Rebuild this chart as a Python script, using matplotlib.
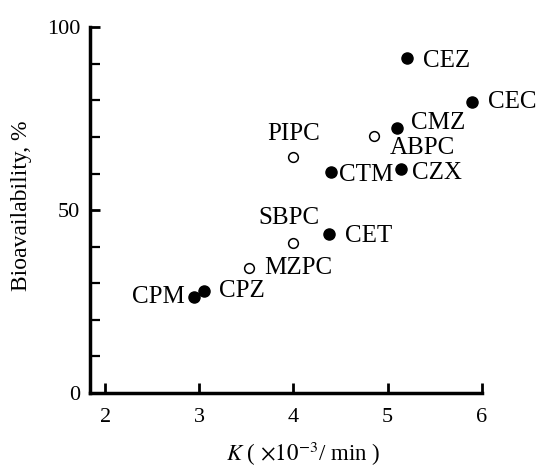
import numpy as np
import matplotlib.pyplot as plt

plt.rcParams['font.family'] = ['Liberation Serif', 'DejaVu Serif']
plt.rcParams['mathtext.fontset'] = 'stix'

# Datos
nombres = ['CEZ', 'CEC', 'CMZ', 'ABPC', 'PIPC', 'CTM', 'CZX', 'SBPC', 'CET', 'MZPC', 'CPM', 'CPZ']
k = [5.21, 5.90, 5.10, 4.86, 4.00, 4.40, 5.14, 3.99, 4.38, 3.53, 2.94, 3.05]
biodisp = [91.5, 79.5, 72.4, 70.2, 64.5, 60.4, 61.2, 41.0, 43.5, 34.2, 26.2, 27.8]
lleno = [True, True, True, False, False, True, True, False, True, False, True, True]

# desplazamiento de etiquetas (puntos) y alineacion
offsets = {
    'CEZ': (11, -2, 'left'), 'CEC': (11.5, 0, 'left'), 'CMZ': (10, 3.5, 'left'),
    'ABPC': (11, -8.5, 'left'), 'PIPC': (0, 16.5, 'center'), 'CTM': (6, -2, 'left'),
    'CZX': (8, -3, 'left'), 'SBPC': (-2.5, 18, 'center'), 'CET': (11, -1.5, 'left'),
    'MZPC': (11, 0, 'left'), 'CPM': (-6, 0, 'right'), 'CPZ': (11, 0, 'left'),
}

fig = plt.figure(figsize=(5.39, 4.69), dpi=100)
ax = fig.add_axes([0.167, 0.162, 0.727, 0.780])

for n, x, y, f in zip(nombres, k, biodisp, lleno):
    if f:
        ax.plot(x, y, 'o', color='black', markersize=8, clip_on=False)
    else:
        ax.plot(x, y, 'o', markerfacecolor='white', markeredgecolor='black',
                markersize=7, markeredgewidth=1.1)
    dx, dy, ha = offsets[n]
    ax.annotate(n, (x, y), xytext=(dx, dy), textcoords='offset points',
                ha=ha, va='center', fontsize=18)

ax.set_xlim(1.84, 6.0)
ax.set_ylim(0, 100)
ax.set_xticks([2, 3, 4, 5, 6])
ax.set_yticks([0, 50, 100])
ax.set_yticks(np.arange(0, 101, 10), minor=True)
ax.tick_params(direction='in', length=7, width=2, labelsize=16)
ax.tick_params(axis='x', pad=11)
ax.tick_params(axis='y', pad=7)
ax.tick_params(which='minor', direction='in', length=7, width=1.6)
ax.spines['top'].set_visible(False)
ax.spines['right'].set_visible(False)
ax.spines['left'].set_linewidth(2.5)
ax.spines['bottom'].set_linewidth(2.5)

ax.set_xlabel(r'$K$ ( $\times 10^{-3}$/ min )', fontsize=16.5)
ax.set_ylabel('Bioavailability, %', fontsize=17)
ax.xaxis.set_label_coords(0.543, -0.128)
ax.yaxis.set_label_coords(-0.148, 0.511)

fig.savefig('out.png', dpi=100)
